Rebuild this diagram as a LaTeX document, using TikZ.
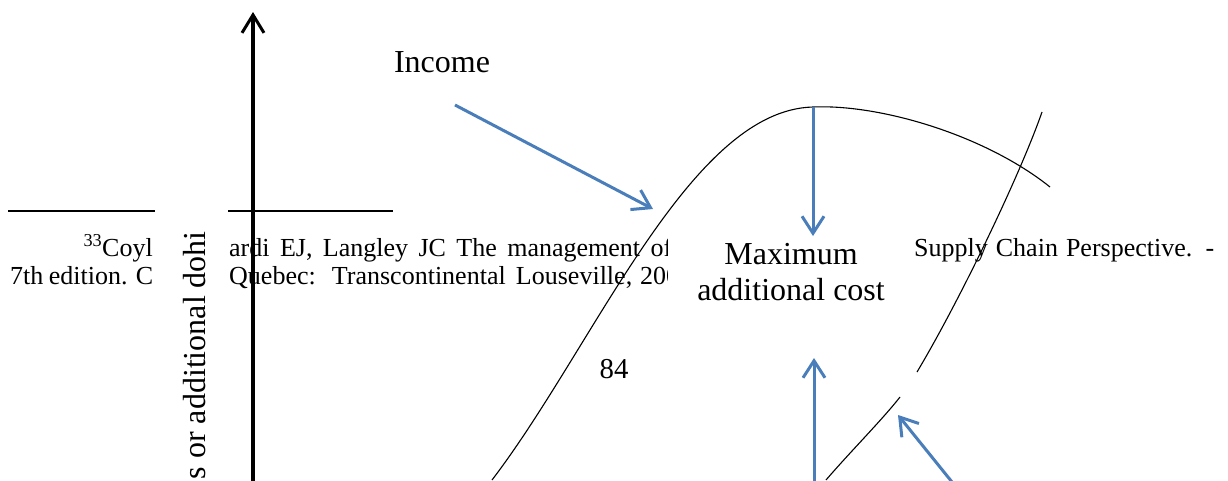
\documentclass[tikz,border=0pt]{standalone}
\usepackage{fontspec}
\setmainfont{Liberation Serif}
\usetikzlibrary{arrows.meta}
\definecolor{lineblue}{RGB}{74,126,187}
\begin{document}
\begin{tikzpicture}[x=1pt,y=-1pt,
  fn/.style={inner sep=0pt, font=\fontsize{26}{30}\selectfont},
  lbl/.style={inner sep=0pt, font=\fontsize{32}{36}\selectfont},
  pgno/.style={inner sep=0pt, font=\fontsize{28.8}{33}\selectfont},
  curve/.style={draw=black, line width=1.1pt},
  axisline/.style={draw=black, line width=3.4pt, -{Straight Barb[length=18pt,width=22pt,line width=3pt]}},
  bluearrow/.style={draw=lineblue, line width=3pt, -{Straight Barb[length=17pt,width=22pt,line width=3pt]}}]
\useasboundingbox (0,0) rectangle (1228,480);

% footnote separator and footnote text
\draw[line width=2pt] (8,211) -- (393,211);
\node[fn, anchor=base east] (fa) at (153,256) {\textsuperscript{33}Coyl};
\node[fn, anchor=base west] (fb) at (229,256) {\makebox[443pt][s]{ardi EJ, Langley JC The management of}};
\node[fn, anchor=base west] (fc) at (914,256) {\makebox[300pt][s]{Supply Chain Perspective. -}};
\node[fn, anchor=base west] (fd) at (10,284) {\makebox[143pt][s]{7th edition. C}};
\node[fn, anchor=base west] (fe) at (229,284) {\makebox[403pt][s]{Quebec: Transcontinental Louseville,}};
\node[fn, anchor=base west] (ff) at (640,284) {200};

% page number
\node[pgno, anchor=base] (pg) at (614,378) {84};

% vertical axis label on a white ground
\fill[white] (155,203) rectangle (228,490);
\node[lbl, rotate=90, anchor=base east] (ylab) at (205,231) {s or additional dohi};

% label box
\node[lbl, fill=white, minimum width=246pt, minimum height=92pt, align=center] (maxc) at (791,272) {Maximum\\additional cost};

% top label
\node[lbl, anchor=base] (inc) at (442,72) {Income};

% curves
\draw[curve] (492,480) .. controls (595,345) and (690,110) .. (813,107)
                       .. controls (880,104) and (985,135) .. (1050,187);
\draw[curve] (1042,112) .. controls (1020,175) and (960,300) .. (917,372);
\draw[curve] (900,397) .. controls (882,420) and (850,452) .. (826,480);

% axis
\coordinate (ax0) at (253,482);
\coordinate (ax1) at (253,12);
\draw[axisline] (ax0) -- (ax1);

% arrows
\coordinate (i0) at (455,105);
\coordinate (i1) at (653,209);
\draw[bluearrow] (i0) -- (i1);
\coordinate (t0) at (813,107);
\coordinate (t1) at (813,236);
\draw[bluearrow] (t0) -- (t1);
\coordinate (b0) at (814,482);
\coordinate (b1) at (814,358);
\draw[bluearrow] (b0) -- (b1);
\coordinate (d0) at (952,482);
\coordinate (d1) at (898,415);
\draw[bluearrow] (d0) -- (d1);
\end{tikzpicture}
\end{document}
